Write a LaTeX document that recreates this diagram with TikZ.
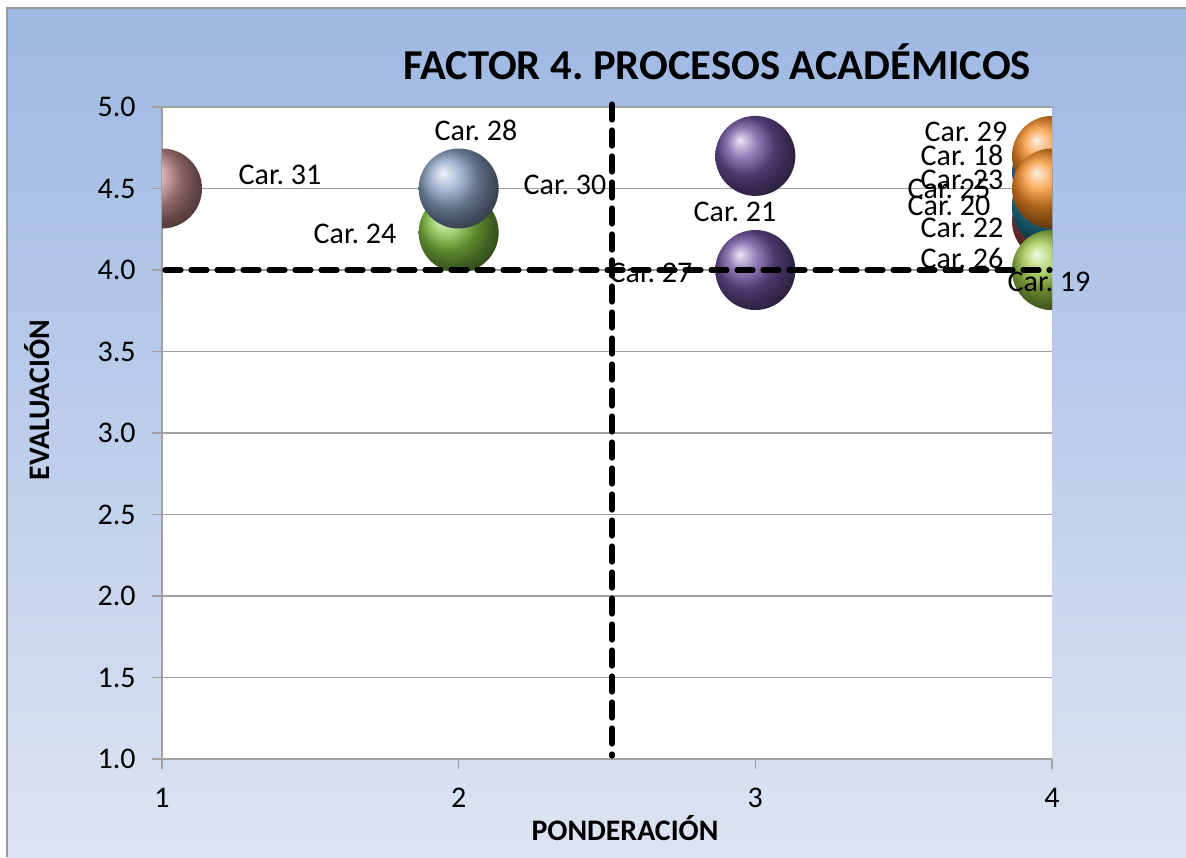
\documentclass[tikz,border=0pt]{standalone}
\usepackage{fontspec}
\setmainfont{Carlito}
\definecolor{bgtop}{RGB}{157,184,227}
\definecolor{bgbot}{RGB}{221,228,243}
\definecolor{gridc}{RGB}{160,160,160}
\definecolor{cpink}{RGB}{205,145,145}
\definecolor{cgray}{RGB}{140,163,200}
\definecolor{cgreen}{RGB}{130,195,65}
\definecolor{cpurple}{RGB}{112,82,160}
\definecolor{corange}{RGB}{245,140,35}
\definecolor{cteal}{RGB}{35,130,160}
\definecolor{cblue}{RGB}{70,120,190}
\definecolor{cred}{RGB}{160,60,60}
\definecolor{clime}{RGB}{155,200,70}
\makeatletter
\pgfdeclareradialshading[tikz@ball]{softball}{\pgfpoint{-4bp}{14bp}}{%
  color(0bp)=(tikz@ball!25!white);
  color(8bp)=(tikz@ball!70!white);
  color(24bp)=(tikz@ball);
  color(42bp)=(tikz@ball!85!black);
  color(58bp)=(tikz@ball!60!black);
  color(70bp)=(tikz@ball!45!black)}
\makeatother
\begin{document}
\frenchspacing
\begin{tikzpicture}[x=0.5pt,y=-0.5pt,
  declare function={px(\a)=162+(\a-1)*296.667; py(\b)=759-(\b-1)*163;},
  lbl/.style={font=\fontsize{15}{17}\selectfont, inner sep=0pt, text=black},
  ticklbl/.style={font=\fontsize{15}{17}\selectfont, inner sep=0pt},
  axtitle/.style={font=\bfseries\fontsize{14.9}{17}\selectfont, inner sep=0pt},
  bubble/.style={circle, minimum size=40pt, inner sep=0pt, shading=softball, draw=none},
  refline/.style={line width=2.6pt, dash pattern=on 8pt off 5pt, line cap=round},
  gridline/.style={draw=gridc, line width=0.7pt}]
\useasboundingbox (0,0) rectangle (1186,857);
% background
\fill[white] (0,0) rectangle (1186,857);
\shade[top color=bgtop, bottom color=bgbot] (7,8) rectangle (1186,857);
\draw[gray!80, line width=1.2pt] (7,857) -- (7,8) -- (1186,8);
% title
\node[font=\bfseries\fontsize{21.3}{25}\selectfont, inner sep=0pt] (title) at (717,62) {FACTOR 4. PROCESOS ACADÉMICOS};
% plot area
\fill[white] (162,107) rectangle (1052,759);
\foreach \v in {1.5,2.0,...,5.0} {
  \draw[gridline] (152,{py(\v)}) -- (1052,{py(\v)});
}
\draw[gridline] (162,107) -- (162,769);
\draw[gridline] (152,759) -- (1052,759);
\foreach \k in {2,3,4} {
  \draw[gridline] ({px(\k)},759) -- ({px(\k)},769);
}
% y tick labels
\foreach \v/\t in {1.0/1.0,1.5/1.5,2.0/2.0,2.5/2.5,3.0/3.0,3.5/3.5,4.0/4.0,4.5/4.5,5.0/5.0} {
  \node[ticklbl, anchor=east] (yt\t) at (136,{py(\v)}) {\t};
}
\foreach \k in {1,2,3,4} {
  \node[ticklbl] (xt\k) at ({px(\k)},798) {\k};
}
\node[axtitle] (xtitle) at (625,828) {PONDERACIÓN};
\node[axtitle, rotate=90] (ytitle) at (37,400) {EVALUACIÓN};
% bubbles
\begin{scope}
\clip (162,107) rectangle (1052,759);
\node[bubble, ball color=cpink] (b31) at ({px(1)},{py(4.5)}) {};
\node[bubble, ball color=cgreen] (b24) at ({px(2)},{py(4.23)}) {};
\node[bubble, ball color=cgray] (b28) at ({px(2)},{py(4.5)}) {};
\node[bubble, ball color=cpurple] (b21) at ({px(3)},{py(4.7)}) {};
\node[bubble, ball color=cpurple] (b27) at ({px(3)},{py(4.0)}) {};
\node[bubble, ball color=cred] (b22) at ({px(4)},{py(4.3)}) {};
\node[bubble, ball color=cteal] (b20) at ({px(4)},{py(4.38)}) {};
\node[bubble, ball color=cteal] (b25) at ({px(4)},{py(4.4)}) {};
\node[bubble, ball color=cblue] (b18) at ({px(4)},{py(4.6)}) {};
\node[bubble, ball color=corange] (b29) at ({px(4)},{py(4.7)}) {};
\node[bubble, ball color=corange] (b23) at ({px(4)},{py(4.5)}) {};
\node[bubble, ball color=clime] (b19) at ({px(4)},{py(4.0)}) {};
\node[bubble, ball color=clime] (b26) at ({px(4)},{py(4.0)}) {};
\end{scope}
% labels
\node[lbl] (l31) at (280,175) {Car. 31};
\node[lbl] (l28) at (476,130) {Car. 28};
\node[lbl] (l24) at (355,234) {Car. 24};
\node[lbl] (l30) at (565,185) {Car. 30};
\node[lbl] (l21) at (735,212) {Car. 21};
\node[lbl] (l27) at (651,273) {Car. 27};
\node[lbl] (l29) at (966,132) {Car. 29};
\node[lbl] (l18) at (962,155) {Car. 18};
\node[lbl] (l23) at (962,180) {Car. 23};
\node[lbl] (l25) at (949,189) {Car. 25};
\node[lbl] (l20) at (949,206) {Car. 20};
\node[lbl] (l22) at (962,228) {Car. 22};
\node[lbl] (l26) at (962,258) {Car. 26};
\node[lbl] (l19) at (1049,282) {Car. 19};
% reference lines
\coordinate (vtop) at (612,104);
\coordinate (vbot) at (612,756);
\coordinate (hl) at (165,{py(4.0)});
\coordinate (hr) at (1050,{py(4.0)});
\draw[refline] (vtop) -- (vbot);
\draw[refline] (hl) -- (hr);
\end{tikzpicture}
\end{document}
